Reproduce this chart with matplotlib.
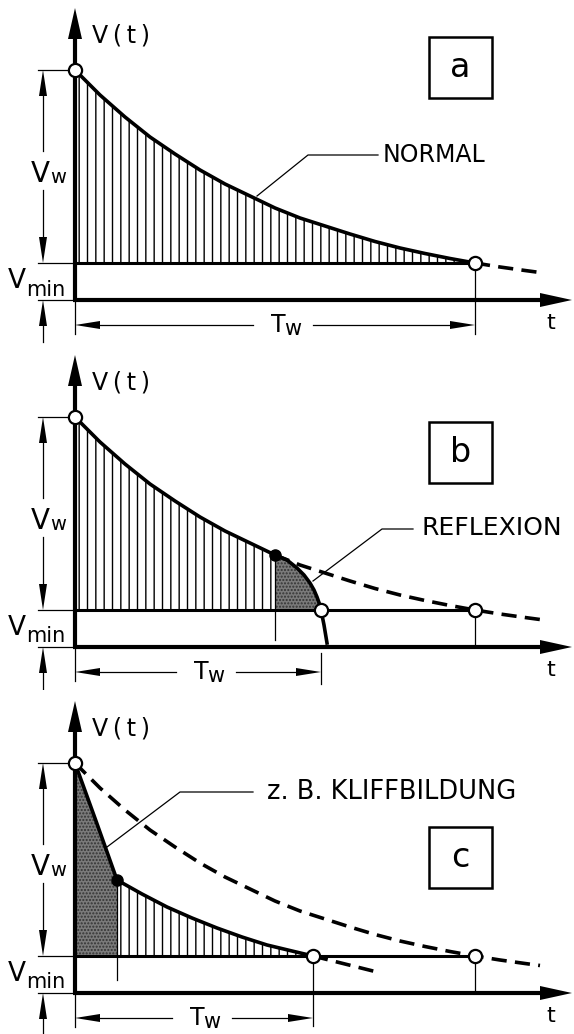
import matplotlib.pyplot as plt
from matplotlib.patches import Polygon, Rectangle

plt.rcParams['font.family'] = ['DejaVu Sans']
plt.rcParams['hatch.linewidth'] = 1.0

# Volumen V(t) über der Zeit t, Schema in beliebigen Einheiten
v_top = 2.30
v_min = 0.37

# a) normaler Verlauf
t_norm = [0.0, 0.25, 0.5, 0.75, 1.0, 1.25, 1.5, 1.75, 2.0, 2.25, 2.5, 2.75, 3.0, 3.25, 3.5, 3.75, 4.0]
v_norm = [2.30, 2.05, 1.83, 1.63, 1.46, 1.30, 1.16, 1.04, 0.92, 0.82, 0.74, 0.66, 0.585, 0.52, 0.465, 0.415, 0.37]
t_norm_ext = [4.0, 4.25, 4.5, 4.65]
v_norm_ext = [0.37, 0.33, 0.295, 0.275]
tw_a = 4.0

# b) Reflexion
t_refl = [2.00, 2.12, 2.22, 2.29, 2.35, 2.39, 2.42, 2.445, 2.46, 2.49, 2.52]
v_refl = [0.92, 0.87, 0.79, 0.72, 0.64, 0.57, 0.50, 0.43, 0.37, 0.22, 0.04]
tw_b = 2.46

# c) z. B. Kliffbildung
t_kliff = [0.0, 0.21, 0.42]
v_kliff = [2.30, 1.72, 1.13]
t_rest = [0.42, 0.67, 0.92, 1.17, 1.42, 1.67, 1.92, 2.17, 2.38]
v_rest = [1.13, 0.99, 0.86, 0.75, 0.65, 0.56, 0.48, 0.42, 0.37]
t_rest_ext = [2.38, 2.70, 3.02]
v_rest_ext = [0.37, 0.29, 0.21]
tw_c = 2.38

letters = ['a', 'b', 'c']
notes = ['NORMAL', 'REFLEXION', 'z. B. KLIFFBILDUNG']
note_sizes = [17, 18, 18.5]

K = 'black'
THIN = 0.9
CURVE = 2.6
DASH = (0, (4.2, 2.3))

fig = plt.figure(figsize=(5.74, 10.34), dpi=100)
fig.patch.set_facecolor('white')


def head(ax, x, y, dx, dy, length=0.26, half=0.04):
    bx, by = x - dx * length, y - dy * length
    pts = [(x, y), (bx - dy * half, by + dx * half), (bx + dy * half, by - dx * half)]
    ax.add_patch(Polygon(pts, closed=True, facecolor=K, edgecolor='none', zorder=7))


def circle(ax, t, v):
    ax.plot([t], [v], 'o', ms=9.5, mfc='white', mec=K, mew=1.6, zorder=9)


def dot(ax, t, v):
    ax.plot([t], [v], 'o', ms=8, mfc=K, mec=K, zorder=9)


def frame(ax, tw, letter, box_lo):
    # Achsen mit Pfeilen
    ax.plot([0, 0], [0, 2.63], color=K, lw=3, solid_capstyle='butt', zorder=6)
    head(ax, 0, 2.92, 0, 1, length=0.31, half=0.07)
    ax.plot([-0.02, 4.66], [0, 0], color=K, lw=3, solid_capstyle='butt', zorder=6)
    head(ax, 4.97, 0, 1, 0, length=0.32, half=0.07)
    ax.text(0.17, 2.575, 'V\u2009(\u2009t\u2009)', fontsize=17, va='baseline')
    ax.text(4.76, -0.23, 't', fontsize=16, ha='center', va='center')

    # Bemaßung Vw und Vmin
    for v in (v_top, v_min, 0):
        ax.plot([-0.37, 0], [v, v], color=K, lw=THIN)
    ax.plot([-0.32, -0.32], [v_top - 0.2, 1.49], color=K, lw=THIN)
    ax.plot([-0.32, -0.32], [1.10, v_min + 0.2], color=K, lw=THIN)
    head(ax, -0.32, v_top, 0, 1)
    head(ax, -0.32, v_min, 0, -1)
    ax.plot([-0.32, -0.32], [-0.2, -0.42], color=K, lw=THIN)
    head(ax, -0.32, 0, 0, 1)
    ax.text(-0.25, 1.18, 'V', fontsize=20, ha='right', va='baseline')
    ax.text(-0.25, 1.17, 'w', fontsize=14, ha='left', va='baseline')
    ax.text(-0.49, 0.12, 'V', fontsize=19, ha='right', va='baseline')
    ax.text(-0.49, 0.045, 'min', fontsize=15, ha='left', va='baseline')

    # Bemaßung Tw
    ax.plot([0, 0], [0, -0.34], color=K, lw=THIN)
    mid = tw / 2 + 0.08
    ax.plot([0.2, mid - 0.30], [-0.25, -0.25], color=K, lw=THIN)
    ax.plot([mid + 0.30, tw - 0.2], [-0.25, -0.25], color=K, lw=THIN)
    head(ax, 0, -0.25, -1, 0, length=0.25)
    head(ax, tw, -0.25, 1, 0, length=0.25)
    ax.text(mid + 0.03, -0.32, 'T', fontsize=17, ha='right', va='baseline')
    ax.text(mid + 0.01, -0.345, 'w', fontsize=15, ha='left', va='baseline')

    # Kennbuchstabe im Kasten
    ax.add_patch(Rectangle((3.54, box_lo), 0.63, 0.61, fill=False, ec=K, lw=1.8))
    ax.text(3.855, box_lo + 0.305, letter, fontsize=24, ha='center', va='center')


def hatch_area(ax, t, lo, hi):
    ax.fill_between(t, lo, hi, facecolor='none', edgecolor=K, hatch='||', linewidth=0, zorder=2)


def grey_area(ax, t, v):
    ax.fill(t, v, facecolor='#7a7a7a', edgecolor='#333333', hatch='.....', linewidth=0, zorder=2)


# Bildbereiche (oben, unten, Nulllinie) in Pixeln
layout = [(0, 345, 300), (345, 690, 647), (690, 1034, 993)]
axes = []
for top, bottom, origin in layout:
    ax = fig.add_axes([0, 1 - bottom / 1034, 1, (bottom - top) / 1034])
    ax.set_xlim(-0.75, 4.99)
    ax.set_ylim(-(bottom - origin) / 100, (origin - top) / 100)
    ax.axis('off')
    axes.append(ax)

ax_a, ax_b, ax_c = axes

# --- a: normal ---
frame(ax_a, tw_a, letters[0], 2.02)
hatch_area(ax_a, t_norm, v_min, v_norm)
ax_a.plot(t_norm, v_norm, color=K, lw=CURVE, zorder=5)
ax_a.plot(t_norm_ext, v_norm_ext, color=K, lw=CURVE, ls=DASH, dash_capstyle='butt', zorder=5)
ax_a.plot([0, tw_a], [v_min, v_min], color=K, lw=2.2, zorder=5)
ax_a.plot([tw_a, tw_a], [v_min, -0.34], color=K, lw=THIN)
circle(ax_a, 0, v_top)
circle(ax_a, tw_a, v_min)
ax_a.plot([1.82, 2.33, 3.03], [1.04, 1.45, 1.45], color=K, lw=THIN, zorder=4)
ax_a.text(3.08, 1.45, notes[0], fontsize=note_sizes[0], va='center')

# --- b: Reflexion ---
frame(ax_b, tw_b, letters[1], 1.64)
n = t_norm.index(t_refl[0]) + 1
hatch_area(ax_b, t_norm[:n], v_min, v_norm[:n])
ax_b.plot(t_norm[:n], v_norm[:n], color=K, lw=CURVE, zorder=5)
ax_b.plot(t_norm[n - 1:] + t_norm_ext[1:], v_norm[n - 1:] + v_norm_ext[1:],
          color=K, lw=CURVE, ls=DASH, dash_capstyle='butt', zorder=5)
m = v_refl.index(v_min) + 1
grey_area(ax_b, t_refl[:m] + [t_refl[0]], v_refl[:m] + [v_min])
ax_b.plot(t_refl, v_refl, color=K, lw=CURVE, zorder=5)
ax_b.plot([0, tw_a], [v_min, v_min], color=K, lw=2.2, zorder=5)
ax_b.plot([t_refl[0], t_refl[0]], [v_refl[0], 0.07], color=K, lw=THIN, zorder=4)
ax_b.plot([tw_b, tw_b], [-0.06, -0.37], color=K, lw=THIN)
ax_b.plot([tw_a, tw_a], [v_min, 0], color=K, lw=THIN)
circle(ax_b, 0, v_top)
circle(ax_b, tw_b, v_min)
circle(ax_b, tw_a, v_min)
dot(ax_b, t_refl[0], v_refl[0])
ax_b.plot([2.38, 3.07, 3.38], [0.66, 1.18, 1.18], color=K, lw=THIN, zorder=4)
ax_b.text(3.47, 1.19, notes[1], fontsize=note_sizes[1], va='center')

# --- c: z. B. Kliffbildung ---
frame(ax_c, tw_c, letters[2], 1.05)
grey_area(ax_c, t_kliff + [t_kliff[-1], 0], v_kliff + [v_min, v_min])
hatch_area(ax_c, t_rest, v_min, v_rest)
ax_c.plot(t_kliff + t_rest[1:], v_kliff + v_rest[1:], color=K, lw=CURVE, zorder=5)
ax_c.plot(t_rest_ext, v_rest_ext, color=K, lw=CURVE, ls=DASH, dash_capstyle='butt', zorder=5)
ax_c.plot(t_norm + t_norm_ext[1:], v_norm + v_norm_ext[1:],
          color=K, lw=CURVE, ls=DASH, dash_capstyle='butt', zorder=5)
ax_c.plot([0, tw_a], [v_min, v_min], color=K, lw=2.2, zorder=5)
ax_c.plot([t_kliff[-1], t_kliff[-1]], [v_kliff[-1], 0.13], color=K, lw=THIN, zorder=4)
ax_c.plot([tw_c, tw_c], [v_min, -0.33], color=K, lw=THIN)
ax_c.plot([tw_a, tw_a], [v_min, 0], color=K, lw=THIN)
circle(ax_c, 0, v_top)
circle(ax_c, tw_c, v_min)
circle(ax_c, tw_a, v_min)
dot(ax_c, t_kliff[-1], v_kliff[-1])
ax_c.plot([0.32, 1.05, 1.78], [1.46, 2.01, 2.01], color=K, lw=THIN, zorder=4)
ax_c.text(1.92, 2.01, notes[2], fontsize=note_sizes[2], va='center')

fig.savefig('out.png', dpi=100)
